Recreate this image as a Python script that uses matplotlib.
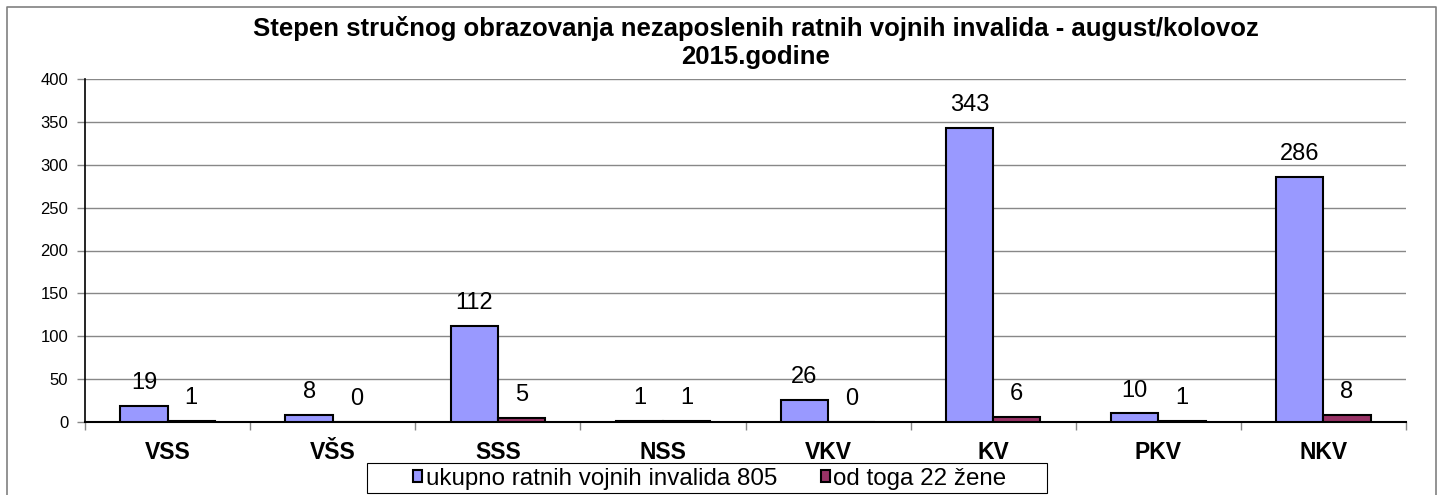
import matplotlib
matplotlib.use("Agg")
import matplotlib.pyplot as plt
from matplotlib.patches import Rectangle
from matplotlib.lines import Line2D
import numpy as np

plt.rcParams['font.family'] = ['Liberation Sans', 'DejaVu Sans']

categories = ["VSS", "VŠS", "SSS", "NSS", "VKV", "KV", "PKV", "NKV"]
total = [19, 8, 112, 1, 26, 343, 10, 286]
women = [1, 0, 5, 1, 0, 6, 1, 8]
series_names = ["ukupno ratnih vojnih invalida 805", "od toga 22 žene"]
title_lines = ["Stepen stručnog obrazovanja nezaposlenih ratnih vojnih invalida - august/kolovoz",
               "2015.godine"]
yticks = [0, 50, 100, 150, 200, 250, 300, 350, 400]

W, H = 1441, 495
fig = plt.figure(figsize=(W / 100, H / 100), dpi=100)
ax = fig.add_axes([85 / W, 1 - 422 / H, (1406 - 85) / W, (422 - 79) / H])

x = np.arange(len(categories))
bw = 0.286
c1, c2 = "#9999FF", "#993366"
b1 = ax.bar(x - bw / 2, total, bw, color=c1, edgecolor="black", linewidth=1.5, zorder=3)
b2 = ax.bar(x + bw / 2, women, bw, color=c2, edgecolor="black", linewidth=1.5, zorder=3)

for bars, vals in ((b1, total), (b2, women)):
    for r, v in zip(bars, vals):
        ax.annotate(str(v), (r.get_x() + r.get_width() / 2, v), xytext=(0, 12),
                    textcoords="offset points", ha="center", va="baseline", fontsize=17)

ax.set_xlim(-0.5, len(categories) - 0.5)
ax.set_ylim(0, 400)
ax.set_yticks(yticks)
ax.tick_params(axis="y", labelsize=12, length=6, width=1, pad=6, direction="out", color="#888888")
ax.yaxis.grid(True, color="#888888", linewidth=1, zorder=0)
ax.set_axisbelow(True)

ax.set_xticks(np.arange(-0.5, len(categories)), labels=[])
ax.set_xticks(x, labels=categories, minor=True)
ax.tick_params(axis="x", which="major", length=6, width=1, color="#888888", direction="out")
ax.tick_params(axis="x", which="minor", length=0, pad=14, labelsize=16.5)
for lab in ax.get_xticklabels(minor=True):
    lab.set_fontweight("bold")

for s in ("top", "right"):
    ax.spines[s].set_visible(False)
ax.spines["left"].set_linewidth(1.2)
ax.spines["bottom"].set_linewidth(1.5)

fig.text(756 / W, 1 - 36 / H, title_lines[0], ha="center", va="baseline", fontsize=18.5,
         fontweight="bold")
fig.text(756 / W, 1 - 64 / H, title_lines[1], ha="center", va="baseline", fontsize=18.5,
         fontweight="bold")

# outer chart border
fig.add_artist(Line2D([7 / W, 7 / W, 1436 / W, 1436 / W], [-0.1, 1 - 7 / H, 1 - 7 / H, -0.1],
                      transform=fig.transFigure, color="#808080", linewidth=1.2))

# legend frame
fig.add_artist(Rectangle((367 / W, 1 - 493 / H), (1047 - 367) / W, 30 / H,
                         transform=fig.transFigure, facecolor="white", edgecolor="black",
                         linewidth=0.8, zorder=1))

handles = [Rectangle((0, 0), 1, 1, facecolor=c1, edgecolor="black", linewidth=1.5),
           Rectangle((0, 0), 1, 1, facecolor=c2, edgecolor="black", linewidth=1.5)]
leg = fig.legend(handles, series_names, loc="center", bbox_to_anchor=(710 / W, 1 - 479 / H),
                 ncol=2, fontsize=17.4, frameon=False,
                 handlelength=0.37, handleheight=0.37, handletextpad=0.15, columnspacing=1.8,
                 borderpad=0, borderaxespad=0)
leg.set_zorder(2)

fig.savefig("out.png", dpi=100)
